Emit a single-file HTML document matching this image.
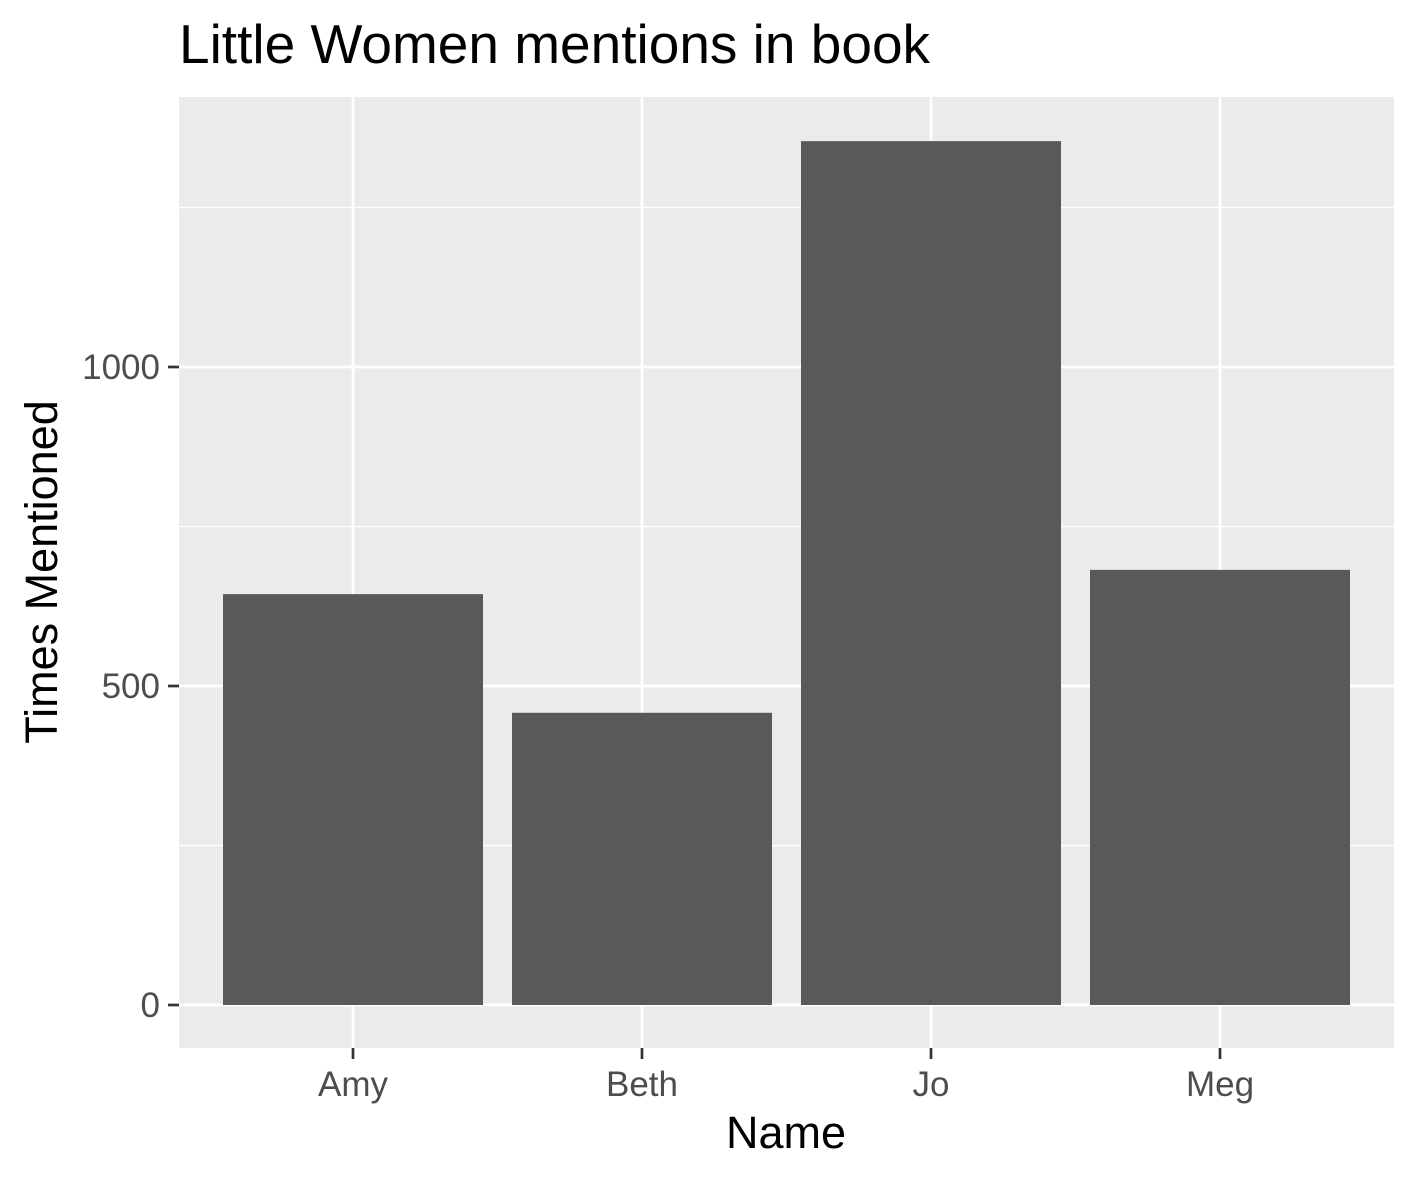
<!DOCTYPE html>
<html><head><meta charset="utf-8"><style>
body{margin:0;background:#fff;}
svg{display:block;font-family:"Liberation Sans",Arial,sans-serif;}
</style></head><body>
<svg id="chart" width="1417" height="1181" viewBox="0 0 1417 1181">
<text x="179" y="63" font-size="55" fill="#000">Little Women mentions in book</text>
<rect x="179" y="97" width="1215" height="951" fill="#ebebeb"/>
<g id="grid"></g>
<g id="bars"></g>
<g id="axes"></g>
<text x="786" y="1148" font-size="45" text-anchor="middle" fill="#000">Name</text>
<text transform="translate(57,572) rotate(-90)" font-size="45" text-anchor="middle" fill="#000">Times Mentioned</text>
</svg>
<script>
const categories = ["Amy","Beth","Jo","Meg"];
const values = [644, 458, 1354, 682];
const yTicks = [0, 500, 1000];
const yMinor = [250, 750, 1250];
const NS="http://www.w3.org/2000/svg";
const y0=1005, pxPer=0.638;
const y=v=>y0-v*pxPer;
const step=289, x0=353;
const x=i=>x0+i*step;
const bw=260;
function mk(tag,attrs,parent){const e=document.createElementNS(NS,tag);for(const k in attrs)e.setAttribute(k,attrs[k]);document.getElementById(parent).appendChild(e);return e;}
yMinor.forEach(v=>{const l=mk("line",{x1:179,x2:1394,y1:y(v),y2:y(v),stroke:"#fff","stroke-width":1.3},"grid");

});
yTicks.forEach(v=>{const l=mk("line",{x1:179,x2:1394,y1:y(v),y2:y(v),stroke:"#fff","stroke-width":2.7},"grid");


const t=mk("line",{x1:168,x2:179,y1:y(v),y2:y(v),stroke:"#333","stroke-width":2.7},"axes");


const tx=mk("text",{x:160,y:y(v)+12,"font-size":35,"text-anchor":"end",fill:"#4d4d4d"},"axes");tx.textContent=v;

});
categories.forEach((c,i)=>{const l=mk("line",{x1:x(i),x2:x(i),y1:97,y2:1048,stroke:"#fff","stroke-width":2.7},"grid");


const b=mk("rect",{x:x(i)-bw/2,y:y(values[i]),width:bw,height:values[i]*pxPer,fill:"#595959"},"bars");


const t=mk("line",{x1:x(i),x2:x(i),y1:1048,y2:1059,stroke:"#333","stroke-width":2.7},"axes");


const tx=mk("text",{x:x(i),y:1096,"font-size":35,"text-anchor":"middle",fill:"#4d4d4d"},"axes");tx.textContent=c;

});
</script>
</body></html>
